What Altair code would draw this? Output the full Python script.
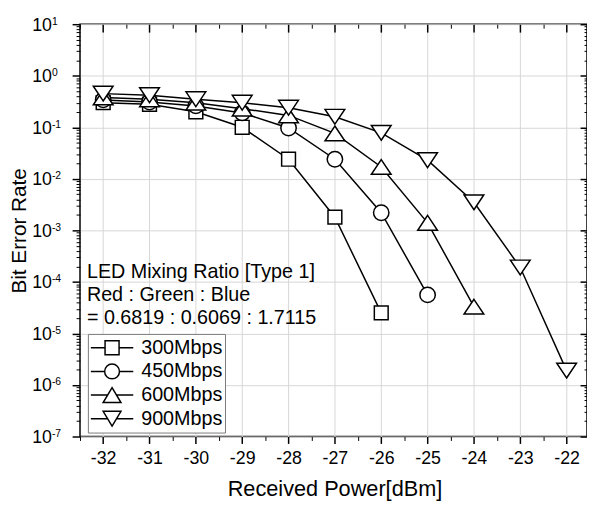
import altair as alt
import pandas as pd

# ---- data ----
power = [-32, -31, -30, -29, -28, -27, -26, -25, -24, -23, -22]
series_names = ["300Mbps", "450Mbps", "600Mbps", "900Mbps"]
ber_300 = [0.30, 0.28, 0.20, 0.10, 0.024, 0.0018, 2.5e-5]
ber_450 = [0.34, 0.31, 0.26, 0.19, 0.097, 0.024, 0.0022, 5.6e-5]
ber_600 = [0.38, 0.35, 0.30, 0.23, 0.17, 0.076, 0.017, 0.0014, 3.3e-5]
ber_900 = [0.45, 0.42, 0.35, 0.30, 0.24, 0.16, 0.078, 0.023, 0.0035, 1.9e-4, 1.9e-6]

x_major = [-32, -31, -30, -29, -28, -27, -26, -25, -24, -23, -22]
x_minor = [-32.5, -31.5, -30.5, -29.5, -28.5, -27.5, -26.5, -25.5, -24.5, -23.5, -22.5]
y_exponents = [-7, -6, -5, -4, -3, -2, -1, 0, 1]
y_minor_mult = [2, 3, 4, 5, 6, 7, 8, 9]

annotation_lines = ["LED Mixing Ratio [Type 1]", "Red : Green : Blue", "= 0.6819 : 0.6069 : 1.7115"]
x_title = "Received Power[dBm]"
y_title = "Bit Error Rate"

y_major = [10.0 ** e for e in y_exponents]
y_minor = [m * 10.0 ** e for e in y_exponents[:-1] for m in y_minor_mult]

rows = []
for name, vals in zip(series_names, [ber_300, ber_450, ber_600, ber_900]):
    for p, v in zip(power, vals):
        rows.append({"power": p, "ber": v, "series": name})
df = pd.DataFrame(rows)

FONT = "Liberation Sans"
W, H = 514, 418

xscale = alt.Scale(domain=[-32.5, -21.56], nice=False, zero=False)
yscale = alt.Scale(type="log", domain=[1e-7, 10], nice=False)

# marker shapes in the plot (unit = sqrt(size)/2)
plot_paths = [
    "M-0.7,-0.7H0.7V0.7H-0.7Z",
    "M-0.78,0A0.78,0.78,0,1,1,0.78,0A0.78,0.78,0,1,1,-0.78,0Z",
    "M0,-0.75L1,0.75H-1Z",
    "M0,0.75L1,-0.75H-1Z",
]
# legend symbols: line + marker
leg_paths = [
    "M-1,0H-0.33M0.33,0H1M-0.33,-0.33H0.33V0.33H-0.33Z",
    "M-1,0H-0.35M0.35,0H1M-0.35,0A0.35,0.35,0,1,1,0.35,0A0.35,0.35,0,1,1,-0.35,0Z",
    "M-1,0H-0.21M0.21,0H1M0,-0.35L0.42,0.35H-0.42Z",
    "M-1,0H-0.21M0.21,0H1M0,0.35L0.42,-0.35H-0.42Z",
]

base = alt.Chart(df)

common_ax = dict(domain=False, labelFont=FONT, titleFont=FONT, labelColor="black",
                 titleColor="black", tickColor="black", labelFlush=False, labelOverlap=False)

# major ticks, labels, grid, titles
major = base.mark_point(opacity=0).encode(
    x=alt.X("power:Q", scale=xscale, axis=alt.Axis(
        orient="bottom", values=x_major, tickSize=7, tickWidth=1.5,
        labelExpr="'' + datum.value", labelFontSize=18, labelPadding=6,
        grid=True, gridColor="#d6d6d6", gridWidth=1,
        title=x_title, titleFontSize=22, titleFontWeight="normal",
        titleX=258, titleY=60, titleBaseline="alphabetic", **common_ax)),
    y=alt.Y("ber:Q", scale=yscale, axis=alt.Axis(
        orient="left", values=y_major, tickSize=8, tickWidth=1.5,
        labelExpr="'10'", labelFontSize=18, labelPadding=21,
        labelBaseline="alphabetic", labelOffset=6,
        grid=True, gridColor="#d6d6d6", gridWidth=1,
        title=y_title, titleFontSize=21, titleFontWeight="normal",
        titleX=-55, titleY=209, titleAngle=270, titleBaseline="alphabetic", **common_ax)),
)

# exponent "superscripts" on y labels
sup = base.mark_point(opacity=0).encode(
    x=alt.X("power:Q", scale=xscale, axis=None),
    y=alt.Y("ber:Q", scale=yscale, axis=alt.Axis(
        orient="left", values=y_major, ticks=False, tickSize=0,
        labelExpr="'' + round(log(datum.value) / LN10)", labelFontSize=10.5,
        labelAlign="left", labelPadding=29, labelBaseline="alphabetic", labelOffset=0,
        grid=False, title=None, **common_ax)),
)

minor = base.mark_point(opacity=0).encode(
    x=alt.X("power:Q", scale=xscale, axis=alt.Axis(
        orient="bottom", values=x_minor, tickSize=4, tickWidth=1, labels=False,
        grid=False, title=None, **common_ax)),
    y=alt.Y("ber:Q", scale=yscale, axis=alt.Axis(
        orient="left", values=y_minor, tickSize=4, tickWidth=1, labels=False,
        grid=False, title=None, **common_ax)),
)

mirror_major = base.mark_point(opacity=0).encode(
    x=alt.X("power:Q", scale=xscale, axis=alt.Axis(
        orient="top", values=x_major, offset=-8, tickSize=8, tickWidth=1.5, labels=False,
        grid=False, title=None, **common_ax)),
    y=alt.Y("ber:Q", scale=yscale, axis=alt.Axis(
        orient="right", values=y_major, offset=-7, tickSize=7, tickWidth=1.5, labels=False,
        grid=False, title=None, **common_ax)),
)

mirror_minor = base.mark_point(opacity=0).encode(
    x=alt.X("power:Q", scale=xscale, axis=alt.Axis(
        orient="top", values=x_minor, offset=-4, tickSize=4, tickWidth=1, labels=False,
        grid=False, title=None, **common_ax)),
    y=alt.Y("ber:Q", scale=yscale, axis=alt.Axis(
        orient="right", values=y_minor, offset=-3, tickSize=3, tickWidth=1, labels=False,
        grid=False, title=None, **common_ax)),
)

lines = base.mark_line(color="black", strokeWidth=1.5).encode(
    x=alt.X("power:Q", scale=xscale, axis=None),
    y=alt.Y("ber:Q", scale=yscale, axis=None),
    detail="series:N",
)

points = base.mark_point(filled=True, fill="white", stroke="black", strokeWidth=1.5,
                         size=400, opacity=1).encode(
    x=alt.X("power:Q", scale=xscale, axis=None),
    y=alt.Y("ber:Q", scale=yscale, axis=None),
    shape=alt.Shape("series:N", scale=alt.Scale(domain=series_names, range=plot_paths),
                    legend=None),
)

# layer that draws no marks (rows filtered out) and only provides the legend
legend_layer = base.transform_filter("datum.ber < 0").mark_point(
    filled=False, color="black", strokeWidth=1.5, opacity=1).encode(
    x=alt.X("power:Q", scale=xscale, axis=None),
    y=alt.Y("ber:Q", scale=yscale, axis=None),
    shape=alt.Shape("series:N", scale=alt.Scale(domain=series_names, range=leg_paths),
                    legend=alt.Legend(
                        title=None, orient="none", legendX=8, legendY=314,
                        direction="vertical", padding=2, rowPadding=0, clipHeight=24,
                        symbolSize=1849, symbolStrokeWidth=1.5, symbolStrokeColor="black",
                        symbolOpacity=1, symbolOffset=0, labelOffset=7,
                        labelFont=FONT, labelFontSize=20, labelColor="black",
                        strokeColor="#7a7a7a", fillColor="white")),
)

note = alt.Chart(pd.DataFrame({"a": [0]})).mark_text(
    text=annotation_lines, align="left", baseline="alphabetic", font=FONT,
    fontSize=20, lineHeight=23.5, color="black",
).encode(x=alt.value(7), y=alt.value(257))

chart = alt.layer(major, sup, minor, mirror_major, mirror_minor, lines, points,
                  legend_layer, note).resolve_axis(
    x="independent", y="independent"
).resolve_scale(shape="independent").properties(
    width=W, height=H,
    autosize=alt.AutoSizeParams(type="none"),
    padding={"left": 73, "top": 13, "right": 0, "bottom": 66},
).configure_view(stroke="black", strokeWidth=1.5)

chart.save("out.html", embed_options={"renderer": "svg", "actions": False})
